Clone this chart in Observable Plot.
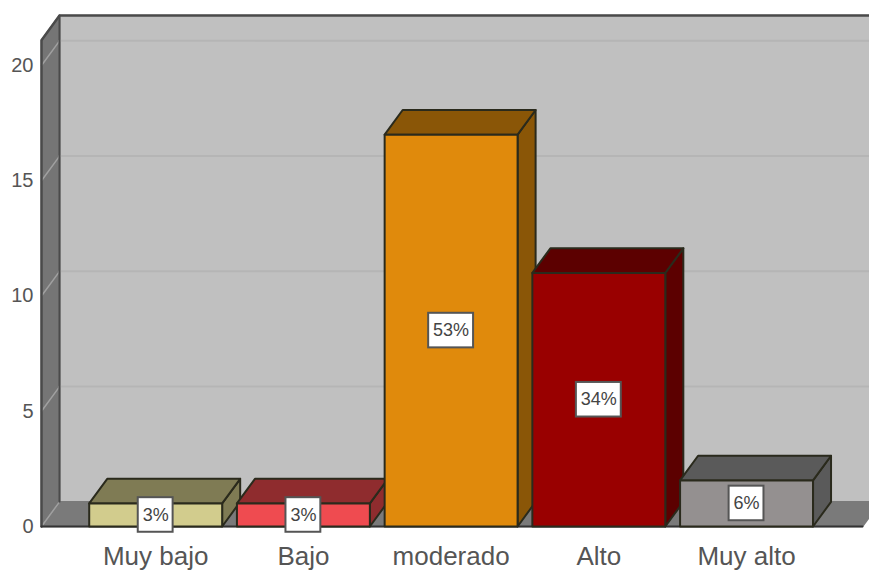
<!DOCTYPE html>
<html>
<head>
<meta charset="utf-8">
<style>
  html, body { margin: 0; padding: 0; background: #fff; }
  svg { display: block; overflow: hidden; }
</style>
<script src="https://cdn.jsdelivr.net/npm/d3@7"></script>
<script src="https://cdn.jsdelivr.net/npm/@observablehq/plot@0.6"></script>
</head>
<body>
<script>
// Survey results: number of answers per level, with each level's share.
const categories = ["Muy bajo", "Bajo", "moderado", "Alto", "Muy alto"];
const counts = [1, 1, 17, 11, 2];
const shares = ["3%", "3%", "53%", "34%", "6%"];
const yTicks = [0, 5, 10, 15, 20];

const frontColors = ["#d2cc8d", "#ef4b50", "#e08a0c", "#990000", "#949090"];
const sideColors = ["#7f7b54", "#8f2c2e", "#8a5607", "#5c0000", "#5a5a5a"];

// Oblique projection: the back plane is shifted by this much in data units.
const depthX = 0.122;
const depthY = 1.07;
const barHalf = 0.45;
const xMin = -0.773;
const xMax = 4.785;
const yMax = 21.1;

const polygons = [];
const addPoly = (id, fill, pts) => pts.forEach(([x, y]) => polygons.push({id, fill, x, y}));

// Chart box: back wall, left wall and floor
const wallPolys = [];
const addWall = (id, fill, pts) => pts.forEach(([x, y]) => wallPolys.push({id, fill, x, y}));
addWall("back", "#c0c0c0", [[xMin + depthX, depthY], [xMax + 2 * depthX, depthY], [xMax + 2 * depthX, yMax + depthY], [xMin + depthX, yMax + depthY]]);
addWall("left", "#757575", [[xMin, 0], [xMin + depthX, depthY], [xMin + depthX, yMax + depthY], [xMin, yMax]]);
addWall("floor", "#7a7a7a", [[xMin, 0], [xMax, 0], [xMax + depthX, depthY], [xMin + depthX, depthY]]);

// Gridlines continue from the left wall across the back wall
const wallGrid = [];
const backGrid = [];
yTicks.forEach((v) => {
  wallGrid.push({v, x: xMin, y: v}, {v, x: xMin + depthX, y: v + depthY});
  if (v > 0) backGrid.push({v, x: xMin + depthX, y: v + depthY}, {v, x: xMax + 2 * depthX, y: v + depthY});
});

// Each bar is three faces: side, top and front
categories.forEach((c, i) => {
  const l = i - barHalf, r = i + barHalf, h = counts[i];
  addPoly(c + "-side", sideColors[i], [[r, 0], [r + depthX, depthY], [r + depthX, h + depthY], [r, h]]);
  addPoly(c + "-top", sideColors[i], [[l, h], [r, h], [r + depthX, h + depthY], [l + depthX, h + depthY]]);
  addPoly(c + "-front", frontColors[i], [[l, 0], [r, 0], [r, h], [l, h]]);
});

const rows = categories.map((c, i) => ({
  i,
  mid: counts[i] / 2,
  share: shares[i],
  halfW: shares[i].length > 2 ? 0.152 : 0.118,
  halfH: 0.75
}));

const chart = Plot.plot({
  width: 869,
  height: 573,
  marginLeft: 41,
  marginRight: 7,
  marginTop: 15,
  marginBottom: 47,
  style: {background: "#fff", fontFamily: "'Liberation Sans', Arial, sans-serif"},
  x: {domain: [xMin, xMax]},
  y: {domain: [0, yMax + depthY]},
  marks: [
    Plot.line(wallPolys, {x: "x", y: "y", z: "id", fill: "fill", stroke: "fill", curve: "linear-closed"}),
    Plot.line(backGrid, {x: "x", y: "y", z: "v", stroke: "#b5b5b5", strokeWidth: 2}),
    Plot.line(wallGrid, {x: "x", y: "y", z: "v", stroke: "#a0a0a0", strokeWidth: 1.5}),
    // Dark edges of the box
    Plot.line([[xMin, 0], [xMin, yMax], [xMin + depthX, yMax + depthY], [xMax + 2 * depthX, yMax + depthY]], {stroke: "#4a4a4a", strokeWidth: 2.5}),
    Plot.line([[xMin + depthX, depthY], [xMin + depthX, yMax + depthY]], {stroke: "#4a4a4a", strokeWidth: 2}),
    Plot.line([[xMin, 0], [xMax, 0]], {stroke: "#333", strokeWidth: 2}),
    Plot.line(polygons, {x: "x", y: "y", z: "id", fill: "fill", stroke: "#2a2a1c", strokeWidth: 2, strokeLinejoin: "round", curve: "linear-closed"}),
    // Share labels in white boxes, centred on each bar
    Plot.rect(rows, {
      x1: (d) => d.i - d.halfW,
      x2: (d) => d.i + d.halfW,
      y1: (d) => d.mid - d.halfH,
      y2: (d) => d.mid + d.halfH,
      fill: "#fff",
      stroke: "#555",
      strokeWidth: 2
    }),
    Plot.text(rows, {x: "i", y: "mid", text: "share", fontSize: 18, fill: "#444"}),
    Plot.axisY({ticks: yTicks, anchor: "left", tickSize: 0, tickPadding: 8, fontSize: 20, color: "#555", label: null}),
    Plot.axisX({ticks: [0, 1, 2, 3, 4], tickFormat: (i) => categories[i], anchor: "bottom", tickSize: 0, tickPadding: 20, fontSize: 26, color: "#555", label: null})
  ]
});
document.body.appendChild(chart);
</script>
</body>
</html>
